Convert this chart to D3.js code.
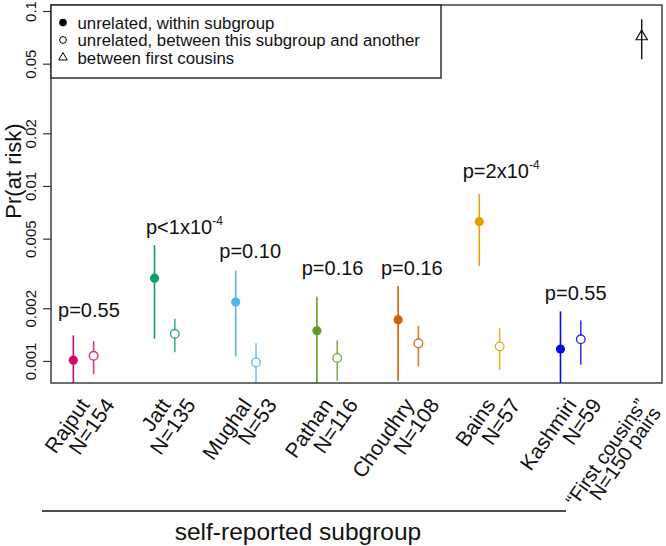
<!DOCTYPE html>
<html>
<head>
<meta charset="utf-8">
<script src="https://cdn.jsdelivr.net/npm/d3@7"></script>
<style>
  html, body { margin: 0; padding: 0; background: #fff; }
  svg { display: block; font-family: "Liberation Sans", Arial, Helvetica, sans-serif; }
</style>
</head>
<body>
<svg id="chart" width="666" height="546"></svg>
<script>
// ---------------- data ----------------
const groups = ["Rajput", "Jatt", "Mughal", "Pathan", "Choudhry", "Bains", "Kashmiri"];
const groupN = ["N=154", "N=135", "N=53", "N=116", "N=108", "N=57", "N=59"];
const withinEst = [0.00101, 0.00297, 0.00217, 0.00149, 0.00172, 0.00625, 0.00117];
const withinLo  = [0.00060, 0.00134, 0.00106, 0.00060, 0.00077, 0.00349, 0.00060];
const withinHi  = [0.00140, 0.00460, 0.00328, 0.00233, 0.00268, 0.00900, 0.00192];
const betweenEst = [0.00107, 0.00143, 0.00098, 0.00104, 0.00126, 0.00121, 0.00133];
const betweenLo  = [0.00084, 0.00112, 0.00060, 0.00077, 0.00093, 0.00089, 0.00095];
const betweenHi  = [0.00130, 0.00174, 0.00126, 0.00131, 0.00159, 0.00154, 0.00170];
const pText = ["p=0.55", "p<1x10", "p=0.10", "p=0.16", "p=0.16", "p=2x10", "p=0.55"];
const pExp  = ["", "-4", "", "", "", "-4", ""];
const pLabelX = [0.812, 1.895, 2.798, 3.813, 4.789, 5.796, 6.807];   // label left edge (x units)
const pLabelY = [0.00178, 0.0053, 0.00386, 0.0031, 0.0031, 0.01106, 0.00223]; // label baseline (Pr units)
const cousinLabel = ["\u201CFirst cousins\u201D", "N=150 pairs"];
const cousinEst = 0.0715, cousinLo = 0.053, cousinHi = 0.0897;
const yTicks = [0.001, 0.002, 0.005, 0.01, 0.02, 0.05, 0.1];
const yTickLabels = ["0.001", "0.002", "0.005", "0.01", "0.02", "0.05", "0.1"];
const legendLabels = ["unrelated, within subgroup", "unrelated, between this subgroup and another", "between first cousins"];
const groupColors = ["#d4086e", "#0f9e74", "#56b4e9", "#6b9a24", "#d55e00", "#e69f00", "#0a0ae6"];

// ---------------- layout ----------------
const svg = d3.select("#chart");
const L = 51, R = 662, T = 5, B = 383;
const x = d3.scaleLinear().domain([0.725, 8.25]).range([L, R]);
const y = d3.scaleLog().domain([0.000748, 0.1082]).range([B, T]);
const openOff = 0.25;
const FONT = "'Liberation Sans', Arial, Helvetica, sans-serif";

svg.append("defs").append("clipPath").attr("id", "plotclip")
  .append("rect").attr("x", L).attr("y", T).attr("width", R - L).attr("height", B - T);

// y axis
const yAxis = d3.axisLeft(y).tickValues(yTicks).tickFormat((d, i) => yTickLabels[i]).tickSize(8).tickSizeOuter(0);
const ga = svg.append("g").attr("transform", `translate(${L},0)`).call(yAxis);
ga.select(".domain").remove();
ga.selectAll(".tick line").attr("stroke", "#333").attr("stroke-width", 1.2);
ga.selectAll(".tick text")
  .attr("font-size", 15).attr("font-family", FONT).attr("fill", "#111")
  .attr("x", null).attr("dy", null)
  .attr("text-anchor", "middle")
  .attr("transform", "translate(-15,0) rotate(-90)");

// y title
svg.append("text").attr("transform", "translate(20.5,171) rotate(-90)")
  .attr("text-anchor", "middle").attr("font-size", 22).attr("fill", "#111")
  .text("Pr(at risk)");

const plot = svg.append("g").attr("clip-path", "url(#plotclip)");

groups.forEach((g, i) => {
  const c = groupColors[i];
  const xf = x(i + 1), xo = x(i + 1 + openOff);
  plot.append("line").attr("x1", xf).attr("x2", xf)
    .attr("y1", y(withinLo[i])).attr("y2", y(withinHi[i]))
    .attr("stroke", c).attr("stroke-width", 1.6);
  plot.append("circle").attr("cx", xf).attr("cy", y(withinEst[i])).attr("r", 4.6).attr("fill", c);
  plot.append("line").attr("x1", xo).attr("x2", xo)
    .attr("y1", y(betweenLo[i])).attr("y2", y(betweenHi[i]))
    .attr("stroke", c).attr("stroke-width", 1.6).attr("stroke-opacity", 0.8);
  plot.append("circle").attr("cx", xo).attr("cy", y(betweenEst[i])).attr("r", 4.3)
    .attr("fill", "#fff").attr("stroke", c).attr("stroke-width", 1.4).attr("stroke-opacity", 0.85);
});

// first cousins
const xc = x(8);
plot.append("line").attr("x1", xc).attr("x2", xc).attr("y1", y(cousinLo)).attr("y2", y(cousinHi))
  .attr("stroke", "#111").attr("stroke-width", 1.4);
plot.append("path").attr("transform", `translate(${xc},${y(cousinEst)})`)
  .attr("d", d3.symbol(d3.symbolTriangle, 55)())
  .attr("fill", "none").attr("stroke", "#111").attr("stroke-width", 1.2);

// p labels
groups.forEach((g, i) => {
  const t = svg.append("text").attr("x", x(pLabelX[i])).attr("y", y(pLabelY[i]))
    .attr("font-size", 20).attr("fill", "#111");
  t.append("tspan").text(pText[i]);
  if (pExp[i]) t.append("tspan").attr("font-size", 12).attr("dy", -9).text(pExp[i]);
});

// frame
svg.append("rect").attr("x", L).attr("y", T).attr("width", R - L).attr("height", B - T)
  .attr("fill", "none").attr("stroke", "#333").attr("stroke-width", 1.4);

// legend
const lg = svg.append("g");
lg.append("rect").attr("x", L).attr("y", T).attr("width", 390).attr("height", 73)
  .attr("fill", "#fff").attr("stroke", "#222").attr("stroke-width", 1.4);
const rows = [22.5, 40, 57.5];
lg.append("circle").attr("cx", 63).attr("cy", rows[0]).attr("r", 3.8).attr("fill", "#000");
lg.append("circle").attr("cx", 63).attr("cy", rows[1]).attr("r", 3.4).attr("fill", "none").attr("stroke", "#000").attr("stroke-width", 1);
lg.append("path").attr("transform", `translate(63,${rows[2]})`).attr("d", d3.symbol(d3.symbolTriangle, 32)())
  .attr("fill", "none").attr("stroke", "#000").attr("stroke-width", 1);
legendLabels.forEach((s, i) => {
  lg.append("text").attr("x", 77.5).attr("y", rows[i] + 6).attr("font-size", 16.8).attr("fill", "#111").text(s);
});

// x labels (rotated)
const ROT = -55;
const XFS = 21;
groups.forEach((g, i) => {
  const xi = x(i + 1);
  svg.append("text").attr("transform", `translate(${xi + 17},405) rotate(${ROT})`)
    .attr("text-anchor", "end").attr("font-size", XFS).attr("fill", "#111").text(g);
  svg.append("text").attr("transform", `translate(${xi + 42},405) rotate(${ROT})`)
    .attr("text-anchor", "end").attr("font-size", XFS).attr("fill", "#111").text(groupN[i]);
});
svg.append("text").attr("transform", `translate(${xc + 6},405) rotate(${ROT})`)
  .attr("text-anchor", "end").attr("font-size", 20).attr("fill", "#111").text(cousinLabel[0]);
svg.append("text").attr("transform", `translate(${xc + 20},413) rotate(${ROT})`)
  .attr("text-anchor", "end").attr("font-size", 20).attr("fill", "#111").text(cousinLabel[1]);

// bracket line & x title
svg.append("line").attr("x1", 42).attr("x2", 566).attr("y1", 511).attr("y2", 511)
  .attr("stroke", "#111").attr("stroke-width", 1.5);
svg.append("text").attr("x", 298).attr("y", 540).attr("text-anchor", "middle")
  .attr("font-size", 24.5).attr("fill", "#111").text("self-reported subgroup");
</script>
</body>
</html>
